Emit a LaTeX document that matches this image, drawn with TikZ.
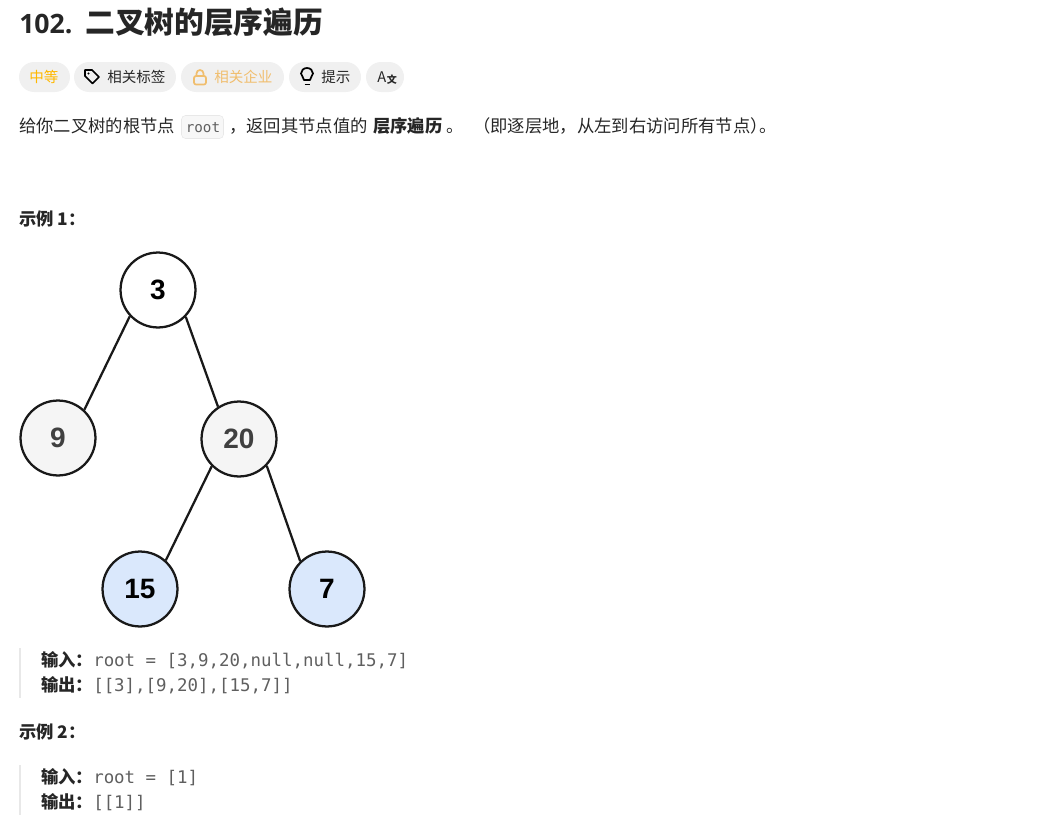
\documentclass[tikz,border=0pt]{standalone}
\usepackage{fontspec}
\setmainfont{Noto Sans CJK SC}
\setmonofont{DejaVu Sans Mono}
\newfontfamily\treefont{Liberation Sans}
\newfontfamily\titlefont{Open Sans}
\definecolor{inktext}{RGB}{38, 38, 38}
\definecolor{codegrey}{RGB}{95, 95, 95}
\definecolor{pillgrey}{RGB}{240, 240, 240}
\definecolor{easyamber}{RGB}{255, 184, 0}
\definecolor{lockamber}{RGB}{240, 190, 110}
\definecolor{barline}{RGB}{232, 232, 232}
\definecolor{leafblue}{RGB}{218, 232, 252}
\definecolor{midgrey}{RGB}{245, 245, 245}
\tikzset{
  pill/.style={fill=pillgrey, rounded corners=15*0.75pt, minimum height=30*0.75pt, inner sep=0pt},
  txt/.style={anchor=base west, inner sep=0pt, text=inktext, font=\fontsize{13}{15}\selectfont},
  vertex/.style={circle, draw=black!90, line width=1.7pt, minimum size=56.2pt, inner sep=0pt, font=\treefont\bfseries\fontsize{21}{24}\selectfont},
  edge/.style={line width=1.7pt, draw=black!90},
  result/.style={txt, font=\fontsize{13}{15}\selectfont\bfseries},
  icon/.style={line width=1.3pt, line join=round}
}
\newcommand{\codepart}[1]{{\mdseries\ttfamily\fontsize{13.07}{15}\selectfont\color{codegrey}#1}}
\begin{document}
\begin{tikzpicture}[x=0.75pt, y=-0.75pt]
  \useasboundingbox (0, 0) rectangle (1058, 835);
  % Title
  \node[txt, font=\titlefont\fontsize{20}{26}\selectfont\bfseries] (titlenum) at (19, 33) {102.};
  \node[txt, font=\fontsize{22.3}{26}\selectfont\bfseries] (title) at (85, 33) {二叉树的层序遍历};

  % Tags
  \node[pill, minimum width=51*0.75pt] (easy) at (44.5, 77) {};
  \node[pill, minimum width=102*0.75pt] (tags) at (125, 77) {};
  \node[pill, minimum width=103*0.75pt] (corp) at (232.5, 77) {};
  \node[pill, minimum width=72*0.75pt] (hint) at (325, 77) {};
  \node[pill, minimum width=38*0.75pt] (lang) at (385, 77) {};
  \node[txt, text=easyamber, font=\fontsize{10.9}{13}\selectfont] (easytext) at (29, 82.5) {中等};
  \node[txt, font=\fontsize{10.9}{13}\selectfont] (tagstext) at (107, 82.5) {相关标签};
  \node[txt, text=lockamber, font=\fontsize{10.9}{13}\selectfont] (corptext) at (214, 82.5) {相关企业};
  \node[txt, font=\fontsize{10.9}{13}\selectfont] (hinttext) at (321, 82.5) {提示};
  % Icons
  \draw[icon, black] (85, 70) -- (92, 70) -- (99, 77) -- (92.5, 83.5) -- (85, 76) -- cycle;
  \fill[black] (88.5, 73.5) circle (1.2);
  \draw[icon, lockamber, rounded corners=1.5pt] (194, 76) rectangle (206, 84.5);
  \draw[icon, lockamber] (196.5, 76) -- (196.5, 73.5) arc[start angle=180, end angle=360, x radius=3.5, y radius=3.5] -- (203.5, 76);
  \draw[icon, black] (304, 80) .. controls (304, 77) and (301, 76) .. (301, 73.5) arc[start angle=180, end angle=360, x radius=6, y radius=5.5] .. controls (313, 76) and (310, 77) .. (310, 80) -- cycle;
  \draw[icon, black] (304.5, 84.5) -- (309.5, 84.5);
  \node[txt, font=\fontsize{11}{13}\selectfont] (langa) at (377, 82.5) {A};
  \node[txt, font=\fontsize{7.5}{10}\selectfont\bfseries] (langb) at (386.5, 83.5) {文};

  % Description
  \node[txt] (desca) at (19, 132) {给你二叉树的根节点};
  \node[draw=barline, fill=black!3, rounded corners=3pt, minimum width=42*0.75pt, minimum height=23*0.75pt, inner sep=0pt] (code) at (202.5, 127) {};
  \node[txt, text=codegrey, font=\ttfamily\fontsize{10.7}{13}\selectfont] (codetext) at (185.5, 132) {root};
  \node[txt] (descb) at (229, 132) {，返回其节点值的};
  \node[txt, font=\fontsize{13}{15}\selectfont\bfseries] (descbold) at (373, 132) {层序遍历};
  \node[txt] (descdot) at (446, 132) {。};
  \node[txt] (descc) at (473, 132) {（即逐层地，从左到右访问所有节点）\kern-6.25pt。};

  % Example 1
  \node[result] (exone) at (19, 225) {示例 1：};
  \node[vertex, fill=white] (v3) at (158, 290) {3};
  \node[vertex, fill=midgrey, text=black!75] (v9) at (58, 438) {9};
  \node[vertex, fill=midgrey, text=black!75] (v20) at (239, 439) {20};
  \node[vertex, fill=leafblue] (v15) at (140, 589) {15};
  \node[vertex, fill=leafblue] (v7) at (327, 589) {7};
  \draw[edge] (v3.223) -- (v9.47);
  \draw[edge] (v3.-44) -- (v20.123);
  \draw[edge] (v20.225) -- (v15.48);
  \draw[edge] (v20.-44) -- (v7.134);
  \fill[barline] (19, 648) rectangle (21, 698);
  \node[result] (inone) at (41, 666) {输入：\codepart{root = [3,9,20,null,null,15,7]}};
  \node[result] (outone) at (41, 691) {输出：\codepart{[[3],[9,20],[15,7]]}};

  % Example 2
  \node[result] (extwo) at (19, 738) {示例 2：};
  \fill[barline] (19, 765) rectangle (21, 815);
  \node[result] (intwo) at (41, 783) {输入：\codepart{root = [1]}};
  \node[result] (outtwo) at (41, 808) {输出：\codepart{[[1]]}};
\end{tikzpicture}
\end{document}
